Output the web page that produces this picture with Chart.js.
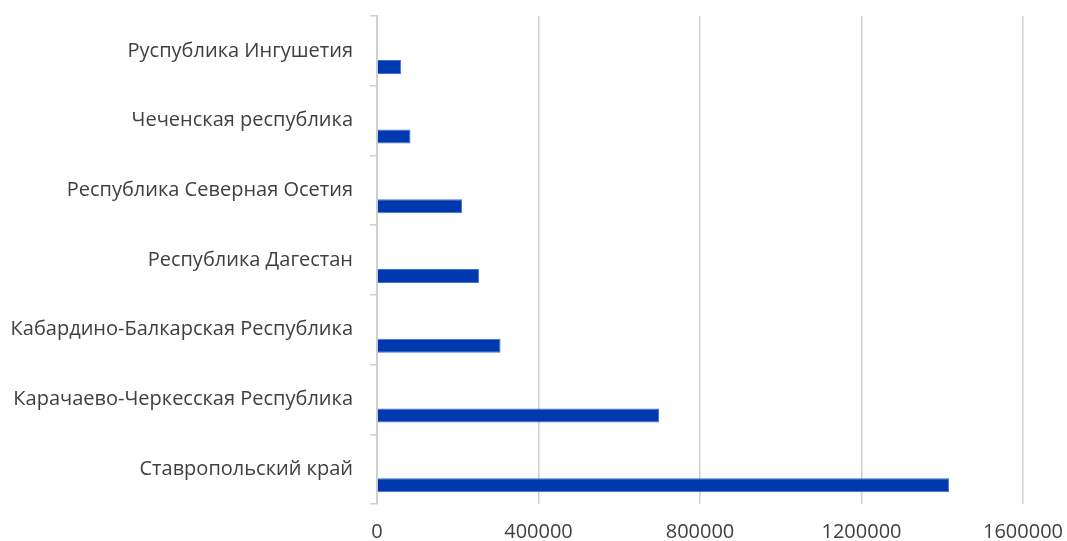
<!DOCTYPE html>
<html lang="ru">
<head>
<meta charset="utf-8">
<title>Регионы</title>
<script src="https://cdn.jsdelivr.net/npm/chart.js@4/dist/chart.umd.min.js"></script>
<style>
    html, body { margin: 0; padding: 0; background: #ffffff; }
    #wrap { position: relative; width: 1067px; height: 541px; }
</style>
</head>
<body>
<div id="wrap"><canvas id="barChart"></canvas></div>
<script>
    // данные (сверху вниз)
    const regioes = [
        'Руспублика Ингушетия',
        'Чеченская республика',
        'Республика Северная Осетия',
        'Республика Дагестан',
        'Кабардино-Балкарская Республика',
        'Карачаево-Черкесская Республика',
        'Ставропольский край'
    ];
    const valores = [60000, 83000, 211000, 253000, 306000, 699000, 1417000];
    const vazio = [null, null, null, null, null, null, null];
    const eixoMin = 0;
    const eixoMax = 1600000;
    const eixoPasso = 400000;

    const paleta = {
        azul: '#0039AE',
        borda: '#3f6fd0',
        grade: '#cfcfcf',
        texto: '#404040'
    };

    Chart.defaults.font.family = "'Open Sans'";
    Chart.defaults.font.size = 20;
    Chart.defaults.color = paleta.texto;

    const graficoBarra = document.getElementById('barChart');
    if (graficoBarra) {
        new Chart(graficoBarra, {
            type: 'bar',
            data: {
                labels: regioes,
                datasets: [{
                    label: '',
                    data: vazio
                }, {
                    label: 'Значение',
                    data: valores,
                    backgroundColor: paleta.azul,
                    borderColor: paleta.borda,
                    borderWidth: 1
                }]
            },
            options: {
                indexAxis: 'y',
                responsive: true,
                maintainAspectRatio: false,
                animation: false,
                layout: { padding: { top: 16, right: 44, bottom: 0, left: 0 } },
                datasets: { bar: { categoryPercentage: 0.92, barPercentage: 0.4375 } },
                plugins: {
                    legend: { display: false },
                    tooltip: { enabled: false }
                },
                scales: {
                    x: {
                        min: eixoMin,
                        max: eixoMax,
                        ticks: {
                            stepSize: eixoPasso,
                            padding: 16,
                            color: paleta.texto,
                            callback: (v) => String(v)
                        },
                        grid: { color: paleta.grade, lineWidth: 1.5, drawTicks: false },
                        border: { display: false },
                        afterFit: (eixo) => {
                            eixo.height = 37;
                            eixo.paddingLeft = 0;
                            eixo.paddingRight = 0;
                        }
                    },
                    y: {
                        ticks: { padding: 17, color: paleta.texto },
                        grid: { drawOnChartArea: false, drawTicks: true, tickLength: 7, color: paleta.grade, lineWidth: 1.5, offset: true },
                        border: { display: true, color: paleta.grade, width: 2 },
                        afterFit: (eixo) => {
                            eixo.width = 377;
                            eixo.paddingTop = 0;
                            eixo.paddingBottom = 0;
                        }
                    }
                }
            }
        });
    }
</script>
</body>
</html>
